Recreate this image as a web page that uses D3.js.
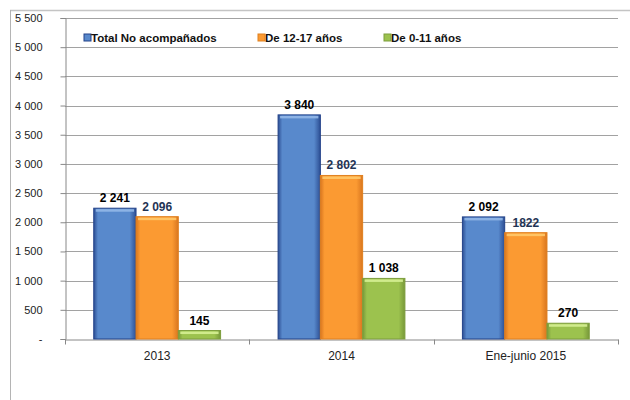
<!DOCTYPE html>
<html>
<head>
<meta charset="utf-8">
<title>No acompañados</title>
<style>
body { margin: 0; background: #fff; }
svg { display: block; }
.tick text { font-family: "Liberation Sans", Arial, sans-serif; }
</style>
</head>
<body>
<div id="vis"></div>
<script src="https://d3js.org/d3.v7.min.js"></script>
<script>

// data
var categories = ["2013", "2014", "Ene-junio 2015"];
var seriesNames = ["Total No acompañados", "De 12-17 años", "De 0-11 años"];
var totalNoAcomp = [2241, 3840, 2092];
var de12a17 = [2096, 2802, 1822];
var de0a11 = [145, 1038, 270];
var labelText = [["2 241", "3 840", "2 092"], ["2 096", "2 802", "1822"], ["145", "1 038", "270"]];
var yTicks = [0, 500, 1000, 1500, 2000, 2500, 3000, 3500, 4000, 4500, 5000, 5500];

var seriesValues = [totalNoAcomp, de12a17, de0a11];
var colors = [
  {mid: "#5889cc", edge: "#2d4f94", top: "#94b8e8", stroke: "#23438a"},
  {mid: "#fb9a32", edge: "#d9761f", top: "#ffc96a", stroke: "#e0801f"},
  {mid: "#9cc24e", edge: "#77983a", top: "#d6f094", stroke: "#7d9e3c"}
];
var labelColors = ["#000", "#1f3455", "#000"];

var W = 630, H = 400;
var svg = d3.select("#vis").append("svg").attr("width", W).attr("height", H);

// outer frame
svg.append("line").attr("x1", 10).attr("x2", W).attr("y1", 10.5).attr("y2", 10.5)
  .attr("stroke", "#c4c4c4").attr("stroke-width", 1.5);
svg.append("line").attr("x1", 10.5).attr("x2", 10.5).attr("y1", 10).attr("y2", H)
  .attr("stroke", "#b4b4b4");

var x0 = d3.scaleBand().domain(categories).range([65, 618]);
var x1 = d3.scaleBand().domain(d3.range(3)).range([0, x0.bandwidth()]).paddingOuter(0.68);
var y = d3.scaleLinear().domain([0, 5500]).range([339, 18]);

var defs = svg.append("defs");
colors.forEach(function(c, i) {
  var g = defs.append("linearGradient").attr("id", "g" + i)
    .attr("x1", "0").attr("x2", "1").attr("y1", "0").attr("y2", "0");
  g.append("stop").attr("offset", "0%").attr("stop-color", c.edge);
  g.append("stop").attr("offset", "10%").attr("stop-color", c.mid);
  g.append("stop").attr("offset", "85%").attr("stop-color", c.mid);
  g.append("stop").attr("offset", "100%").attr("stop-color", c.edge);
});

// grid
svg.append("g").selectAll("line").data(yTicks.slice(1)).join("line")
  .attr("x1", 65).attr("x2", 618)
  .attr("y1", function(d) { return Math.round(y(d)) + 0.5; })
  .attr("y2", function(d) { return Math.round(y(d)) + 0.5; })
  .attr("stroke", "#a2a2a2").attr("stroke-width", 1);

// y axis
var yAxis = svg.append("g").attr("transform", "translate(65.5,0)")
  .call(d3.axisLeft(y).tickValues(yTicks).tickSize(5).tickPadding(18)
    .tickFormat(function(d) { return d === 0 ? "-" : d3.format(",")(d).replace(",", " "); }));
yAxis.selectAll("path, line").attr("stroke", "#888");
yAxis.selectAll("text").attr("font-size", 11).attr("fill", "#222");

// x axis
var xAxis = svg.append("g").attr("transform", "translate(0,339.5)")
  .call(d3.axisBottom(x0).tickSize(0).tickPadding(12));
xAxis.select("path").attr("stroke", "#888");
xAxis.selectAll("text").attr("font-size", 12).attr("fill", "#222");
var bounds = [65, 65 + x0.step(), 65 + 2 * x0.step(), 618];
xAxis.selectAll("line.sep").data(bounds).join("line").attr("class", "sep")
  .attr("x1", function(d) { return Math.round(d) + 0.5; })
  .attr("x2", function(d) { return Math.round(d) + 0.5; })
  .attr("y1", 0).attr("y2", 5).attr("stroke", "#888");

// bars
seriesValues.forEach(function(vals, s) {
  var g = svg.append("g");
  g.selectAll("rect.bar").data(vals).join("rect").attr("class", "bar")
    .attr("x", function(d, i) { return x0(categories[i]) + x1(s); })
    .attr("y", function(d) { return y(d); })
    .attr("width", x1.bandwidth())
    .attr("height", function(d) { return y(0) - y(d); })
    .attr("fill", "url(#g" + s + ")")
    .attr("stroke", colors[s].stroke).attr("stroke-width", 1);
  g.selectAll("rect.hl").data(vals).join("rect").attr("class", "hl")
    .attr("x", function(d, i) { return x0(categories[i]) + x1(s) + 2; })
    .attr("y", function(d) { return y(d) + 1; })
    .attr("width", x1.bandwidth() - 4)
    .attr("height", 2.5)
    .attr("fill", colors[s].top).attr("opacity", 0.9);
  g.selectAll("text").data(vals).join("text")
    .attr("x", function(d, i) { return x0(categories[i]) + x1(s) + x1.bandwidth() / 2; })
    .attr("y", function(d) { return y(d) - 6; })
    .attr("text-anchor", "middle")
    .attr("font-family", "'Liberation Sans', Arial, sans-serif")
    .attr("font-weight", "bold").attr("font-size", 12)
    .attr("fill", labelColors[s])
    .text(function(d, i) { return labelText[s][i]; });
});

// legend
var legendX = [84, 258, 384];
var legend = svg.append("g").selectAll("g").data(seriesNames).join("g")
  .attr("transform", function(d, i) { return "translate(" + legendX[i] + ",38)"; });
legend.append("rect").attr("x", 0).attr("y", -4).attr("width", 7).attr("height", 7)
  .attr("fill", function(d, i) { return colors[i].mid; })
  .attr("stroke", function(d, i) { return colors[i].stroke; });
legend.append("text").attr("x", 7).attr("y", 4)
  .attr("font-family", "'Liberation Sans', Arial, sans-serif")
  .attr("font-weight", "bold").attr("font-size", 11.5).attr("fill", "#111")
  .text(function(d) { return d; });

</script>
</body>
</html>
